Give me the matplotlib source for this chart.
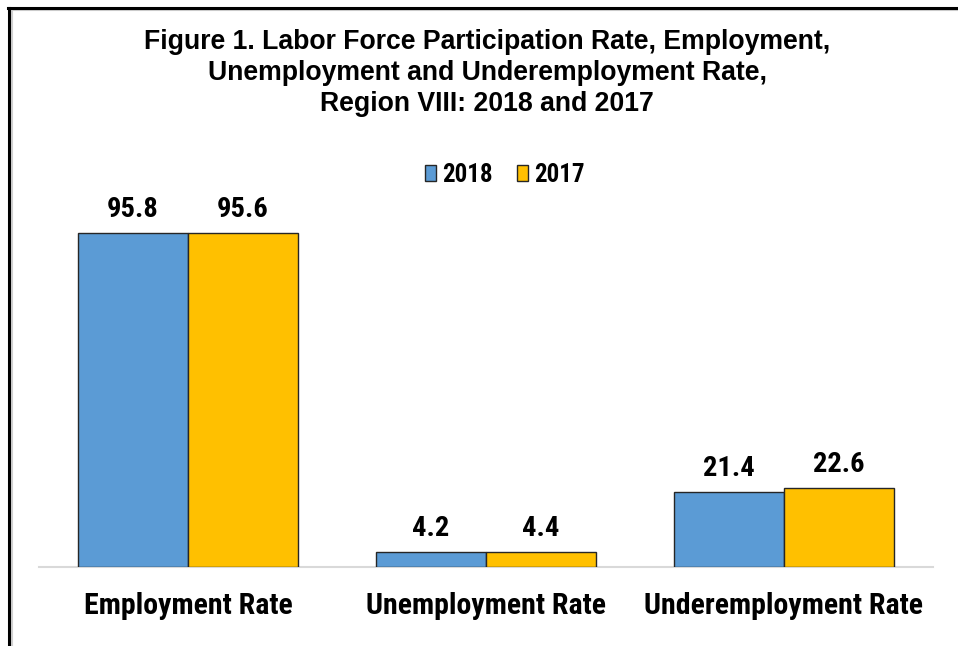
import matplotlib
matplotlib.use("Agg")
import matplotlib.pyplot as plt
import numpy as np
from matplotlib import font_manager
from matplotlib.lines import Line2D
from matplotlib.patches import Patch

categories = ["Employment Rate", "Unemployment Rate", "Underemployment Rate"]
years = ["2018", "2017"]
rate_2018 = [95.8, 4.2, 21.4]
rate_2017 = [95.6, 4.4, 22.6]
colors = ["#5B9BD5", "#FFC000"]
title = ("Figure 1. Labor Force Participation Rate, Employment,\n"
         "Unemployment and Underemployment Rate,\n"
         "Region VIII: 2018 and 2017")


def pick_font(names):
    # first family that has a real bold face
    for name in names:
        try:
            path = font_manager.findfont(
                font_manager.FontProperties(family=name, weight="bold"),
                fallback_to_default=False)
        except Exception:
            continue
        if "Bold" in path or "bold" in path:
            return name
    return "Liberation Sans"


narrow = pick_font(["Liberation Sans Narrow", "Arial Narrow", "Roboto Condensed",
                    "Open Sans Condensed", "Barlow Semi Condensed",
                    "Asap Condensed"])
plt.rcParams["font.family"] = [narrow, "DejaVu Sans"]
plt.rcParams["font.weight"] = "bold"

W, H = 958, 646
fig = plt.figure(figsize=(W / 100, H / 100), dpi=100)
ax = fig.add_axes([39 / W, (H - 567) / H, (933 - 39) / W, 349 / H])

x = np.arange(len(categories))
width = 0.369
series = [rate_2018, rate_2017]
for i, (vals, col) in enumerate(zip(series, colors)):
    pos = x + (i - 0.5) * width
    bars = ax.bar(pos, vals, width, color=col, edgecolor="#262626",
                  linewidth=1.0, label=years[i], zorder=3)
    for b, v in zip(bars, vals):
        ax.annotate(f"{v:.1f}", (b.get_x() + b.get_width() / 2, v),
                    xytext=(0, 11.5), textcoords="offset points",
                    ha="center", va="baseline", fontsize=20.5,
                    fontweight="bold")

ax.set_xlim(-0.5, 2.5)
ax.set_ylim(0, 100)
ax.set_yticks([])
ax.set_xticks(x)
ax.set_xticklabels(categories, fontsize=21.5, fontweight="bold")
ax.tick_params(axis="x", length=0, pad=18)
for s in ["top", "right", "left"]:
    ax.spines[s].set_visible(False)
ax.spines["bottom"].set_color("#D9D9D9")
ax.spines["bottom"].set_linewidth(1.5)
ax.patch.set_alpha(0)

handles = [Patch(facecolor=c, edgecolor="#262626", linewidth=1.0) for c in colors]
fig.legend(handles, years, loc="center", ncol=2, frameon=False,
           bbox_to_anchor=(505 / W, 1 - 175 / H),
           bbox_transform=fig.transFigure,
           prop={"family": [narrow, "DejaVu Sans"], "weight": "bold", "size": 18},
           handlelength=0.45, handleheight=0.6, handletextpad=0.25,
           columnspacing=0.95, borderpad=0)

fig.text(487 / W, 1 - 73 / H, title, ha="center", va="center",
         family=["Liberation Sans", "DejaVu Sans"],
         fontsize=19.2, fontweight="bold", linespacing=1.27)

# outer frame (left and top edges only, as in the source image)
fig.add_artist(Line2D([11.5 / W, 11.5 / W], [0, 1 - 9.5 / H],
                      transform=fig.transFigure, color="#D0D0D0", lw=1.5))
fig.add_artist(Line2D([11.5 / W, 1], [1 - 9.5 / H, 1 - 9.5 / H],
                      transform=fig.transFigure, color="#D0D0D0", lw=1.5))
fig.add_artist(Line2D([9 / W, 9 / W], [0, 1 - 7.5 / H],
                      transform=fig.transFigure, color="black", lw=2.2))
fig.add_artist(Line2D([8 / W, 1], [1 - 7.5 / H, 1 - 7.5 / H],
                      transform=fig.transFigure, color="black", lw=2.2))

fig.savefig("out.png", dpi=100)
